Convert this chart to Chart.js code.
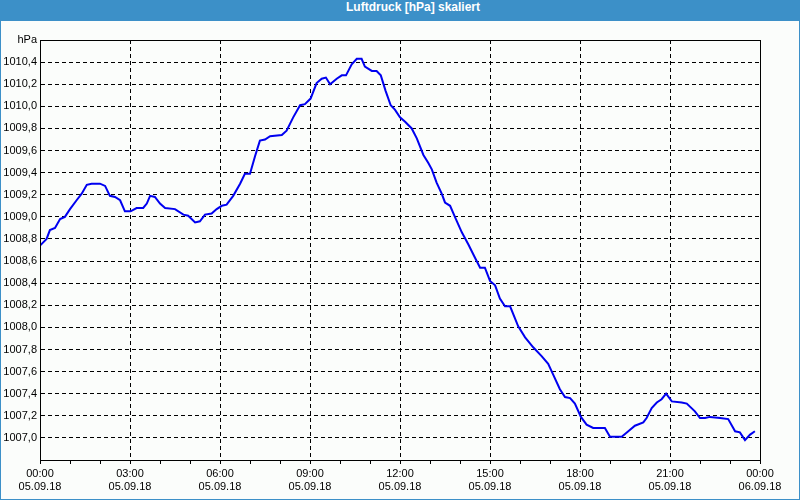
<!DOCTYPE html>
<html>
<head>
<meta charset="utf-8">
<title>Luftdruck [hPa] skaliert</title>
<script src="https://cdn.jsdelivr.net/npm/chart.js@4"></script>
<style>
  html, body { margin: 0; padding: 0; background: #fff; }
  #frame {
    position: absolute; left: 0; top: 0;
    width: 800px; height: 500px;
    box-sizing: border-box;
    border: 1px solid #3c90c8; border-top: none;
    background: #fbfdfb;
  }
  #titlebar {
    height: 21px; line-height: 21px;
    background: #3c90c8; color: #fff;
    font: bold 12px "Liberation Sans", Arial, sans-serif;
    text-align: center; padding-left: 26px;
  }
  #chartBox { position: relative; width: 798px; height: 478px; }
</style>
</head>
<body>
<div id="frame">
  <div id="titlebar">Luftdruck [hPa] skaliert</div>
  <div id="chartBox"><canvas id="pressureChart"></canvas></div>
</div>

<script>
// Stunden seit 05.09.18 00:00
const hours = [
  0.0, 0.22, 0.33, 0.5, 0.67, 0.83, 1.0, 1.22, 1.39, 1.56, 1.72, 2.0, 2.17, 2.33, 2.5, 2.67, 2.83,
  3.02, 3.22, 3.44, 3.56, 3.67, 3.83, 4.0, 4.17, 4.5, 4.78, 4.94, 5.17, 5.33, 5.5, 5.72, 5.89,
  6.06, 6.22, 6.44, 6.67, 6.83, 7.0, 7.17, 7.33, 7.5, 7.67, 8.06, 8.22, 8.44, 8.67, 8.83,
  9.02, 9.22, 9.39, 9.53, 9.67, 9.89, 10.06, 10.2, 10.39, 10.56, 10.72, 10.83, 11.06, 11.22, 11.36, 11.52, 11.69, 11.83,
  12.0, 12.17, 12.39, 12.56, 12.78, 12.94, 13.06, 13.22, 13.39, 13.5, 13.67, 13.83, 14.06, 14.28, 14.5, 14.67, 14.83,
  15.0, 15.17, 15.33, 15.5, 15.67, 15.94, 16.17, 16.44, 16.72, 16.94, 17.11, 17.33, 17.5, 17.67, 17.83,
  18.03, 18.22, 18.44, 18.83, 19.0, 19.39, 19.61, 19.83, 20.11, 20.22, 20.39, 20.56, 20.72, 20.87,
  21.06, 21.39, 21.56, 21.83, 22.0, 22.17, 22.33, 22.67, 22.94, 23.17, 23.33, 23.5, 23.67, 23.83
];

// Luftdruck in hPa
const pressure = [
  1008.74, 1008.80, 1008.88, 1008.90, 1008.98, 1009.00, 1009.07, 1009.15, 1009.21, 1009.29, 1009.30, 1009.30, 1009.28, 1009.19, 1009.18, 1009.15, 1009.05,
  1009.05, 1009.08, 1009.08, 1009.12, 1009.19, 1009.18, 1009.12, 1009.08, 1009.07, 1009.02, 1009.01, 1008.95, 1008.96, 1009.02, 1009.03, 1009.07,
  1009.10, 1009.11, 1009.19, 1009.30, 1009.39, 1009.39, 1009.55, 1009.69, 1009.70, 1009.73, 1009.74, 1009.78, 1009.90, 1010.01, 1010.02,
  1010.07, 1010.21, 1010.25, 1010.26, 1010.20, 1010.25, 1010.28, 1010.28, 1010.38, 1010.43, 1010.43, 1010.36, 1010.32, 1010.32, 1010.28, 1010.14, 1010.01, 1009.97,
  1009.90, 1009.86, 1009.80, 1009.71, 1009.56, 1009.49, 1009.43, 1009.31, 1009.21, 1009.13, 1009.10, 1009.00, 1008.86, 1008.75, 1008.63, 1008.54, 1008.54,
  1008.42, 1008.38, 1008.26, 1008.19, 1008.19, 1008.01, 1007.91, 1007.82, 1007.74, 1007.67, 1007.57, 1007.44, 1007.37, 1007.36, 1007.31,
  1007.19, 1007.12, 1007.09, 1007.09, 1007.01, 1007.01, 1007.06, 1007.11, 1007.14, 1007.18, 1007.27, 1007.32, 1007.35, 1007.40,
  1007.33, 1007.32, 1007.31, 1007.24, 1007.18, 1007.18, 1007.19, 1007.18, 1007.17, 1007.06, 1007.05, 1006.98, 1007.03, 1007.06
];

// Beschriftung der x-Achse (alle 3 Stunden)
const timeLabels = ['00:00', '03:00', '06:00', '09:00', '12:00', '15:00', '18:00', '21:00', '00:00'];
const dateLabels = ['05.09.18', '05.09.18', '05.09.18', '05.09.18', '05.09.18', '05.09.18', '05.09.18', '05.09.18', '06.09.18'];

// y-Achse
const yMin = 1006.8;
const yMax = 1010.6;
const yStep = 0.2;
const yUnit = 'hPa';

// Rahmen oben/rechts um die Zeichenfläche
const plotBorder = {
    id: 'plotBorder',
    afterDraw(chart) {
        const { ctx, chartArea: a } = chart;
        ctx.save();
        ctx.strokeStyle = '#000';
        ctx.lineWidth = 1;
        ctx.strokeRect(a.left + 0.5, a.top + 0.5, a.right - a.left, a.bottom - a.top);
        ctx.restore();
    }
};

const near = (a, b) => Math.abs(a - b) < 1e-6;
const axisFont = { family: '"Liberation Sans", Arial, sans-serif', size: 11 };

const ctx = document.getElementById('pressureChart').getContext('2d');
const pressureChart = new Chart(ctx, {
    type: 'line',
    data: {
        datasets: [{
            data: hours.map((h, i) => ({ x: h, y: pressure[i] })),
            borderColor: '#0000f0',
            borderWidth: 2,
            pointRadius: 0,
            tension: 0,
            fill: false
        }]
    },
    options: {
        responsive: true,
        maintainAspectRatio: false,
        animation: false,
        layout: { padding: { top: 19, right: 39, left: 0, bottom: 0 } },
        plugins: {
            legend: { display: false },
            tooltip: { enabled: false }
        },
        scales: {
            x: {
                type: 'linear',
                min: 0,
                max: 24,
                afterFit: (scale) => { scale.height = 39; },
                border: { display: true, color: '#000', width: 1, dash: [4, 3] },
                grid: {
                    color: (c) => (c.tick && c.tick.value % 3 === 0) ? '#000' : 'rgba(0,0,0,0)',
                    tickColor: '#000',
                    tickLength: 4,
                    lineWidth: 1
                },
                ticks: {
                    stepSize: 1,
                    autoSkip: false,
                    maxRotation: 0,
                    padding: 3,
                    color: '#000',
                    font: axisFont,
                    callback: function(value) {
                        if (value % 3 !== 0) return '';
                        const i = value / 3;
                        return [timeLabels[i], dateLabels[i]];
                    }
                }
            },
            y: {
                min: yMin,
                max: yMax,
                afterFit: (scale) => { scale.width = 39; },
                border: { display: true, color: '#000', width: 1, dash: [4, 3] },
                grid: {
                    drawTicks: false,
                    color: (c) => (c.tick && (near(c.tick.value, yMin) || near(c.tick.value, yMax))) ? 'rgba(0,0,0,0)' : '#000',
                    lineWidth: 1
                },
                ticks: {
                    stepSize: yStep,
                    padding: 3,
                    color: '#000',
                    font: axisFont,
                    callback: function(value) {
                        if (near(value, yMax)) return yUnit;
                        if (near(value, yMin)) return '';
                        return value.toFixed(1).replace('.', ',');
                    }
                }
            }
        }
    },
    plugins: [plotBorder]
});
</script>
</body>
</html>
